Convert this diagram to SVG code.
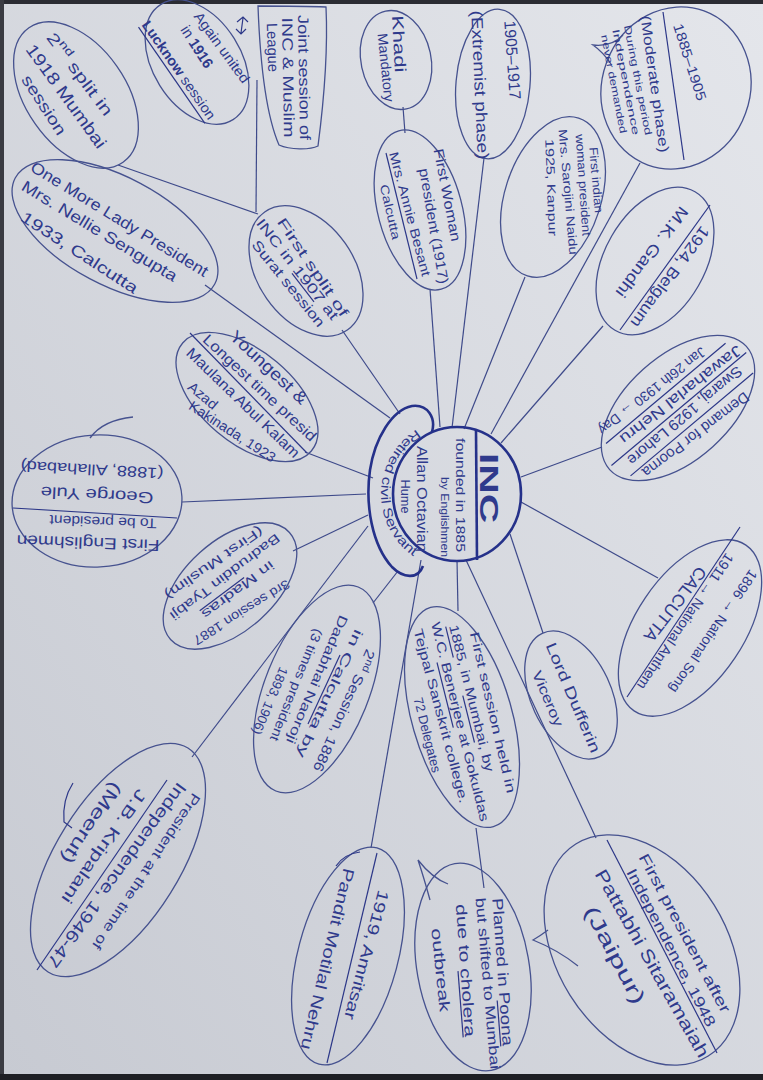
<svg xmlns="http://www.w3.org/2000/svg" width="763" height="1080" viewBox="0 0 763 1080">
<defs>
<linearGradient id="paper" x1="1" y1="0" x2="0" y2="1">
<stop offset="0" stop-color="#e4e6eb"/>
<stop offset="1" stop-color="#c7cad2"/>
</linearGradient>
<path id="arcR" d="M416.7,429.5 A76,76 0 0 0 421.3,561.1"/>
<style>
.t{font-family:"Liberation Sans","DejaVu Sans",sans-serif;fill:#2f3a8c;text-anchor:middle;dominant-baseline:central}
.b{fill:none;stroke:#46528f;stroke-width:1.3}
.c{fill:none;stroke:#3e4a8a;stroke-width:1.2}
.u{fill:none;stroke:#2c3788;stroke-width:1.2}
.k{fill:none;stroke:#25318a;stroke-width:2.6}
</style>
</defs>
<rect width="763" height="1080" fill="url(#paper)"/>
<rect x="0" y="0" width="763" height="4" fill="#2b2c33"/>
<rect x="0" y="0" width="4" height="1080" fill="#3a3b42"/>
<rect x="0" y="1074" width="763" height="6" fill="#1e1f24"/>

<g id="connectors">
<line class="c" x1="118" y1="165" x2="258" y2="214"/>
<line class="c" x1="257" y1="80" x2="256" y2="212"/>
<line class="c" x1="342" y1="330" x2="400" y2="414"/>
<line class="c" x1="205" y1="285" x2="390" y2="418"/>
<line class="c" x1="403" y1="107" x2="405" y2="133"/>
<line class="c" x1="430" y1="289" x2="440" y2="427"/>
<line class="c" x1="484" y1="158" x2="452" y2="428"/>
<line class="c" x1="525" y1="277" x2="464" y2="429"/>
<line class="c" x1="640" y1="163" x2="491" y2="434"/>
<line class="c" x1="603" y1="326" x2="501" y2="443"/>
<line class="c" x1="602" y1="447" x2="521" y2="477"/>
<line class="c" x1="658" y1="578" x2="521" y2="502"/>
<line class="c" x1="543" y1="633" x2="510" y2="534"/>
<line class="c" x1="457" y1="560" x2="458" y2="611"/>
<line class="c" x1="466" y1="560" x2="596" y2="838"/>
<line class="c" x1="476" y1="828" x2="484" y2="888"/>
<line class="c" x1="421" y1="560" x2="371" y2="848"/>
<line class="c" x1="398" y1="571" x2="373" y2="603"/>
<line class="c" x1="293" y1="551" x2="368" y2="515"/>
<line class="c" x1="182" y1="502" x2="366" y2="494"/>
<line class="c" x1="305" y1="452" x2="373" y2="478"/>
<line class="c" x1="368" y1="526" x2="192" y2="757"/>
</g>

<g id="n-inc">
<path class="k" d="M432,432 C436,418 428,404 412,406 C392,410 375,438 370,470 C365,505 372,545 392,567 C403,578 418,580 423,566"/>
<ellipse class="k" cx="457" cy="494" rx="64" ry="67" fill="#dcdee5"/>
<line class="k" x1="476" y1="430" x2="477" y2="560" stroke-width="1.8"/>
<text class="t" font-size="26" font-weight="bold" transform="translate(489,488) rotate(90)" textLength="70" lengthAdjust="spacingAndGlyphs">INC</text>
<text class="t" font-size="12" transform="translate(460,495) rotate(90)" textLength="114" lengthAdjust="spacingAndGlyphs">founded in 1885</text>
<text class="t" font-size="11" transform="translate(445,517) rotate(90)" textLength="80" lengthAdjust="spacingAndGlyphs">by Englishmen</text>
<text class="t" font-size="14" transform="translate(421.5,499) rotate(90)" textLength="106" lengthAdjust="spacingAndGlyphs">Allan Octavian</text>
<text class="t" font-size="13" transform="translate(405,496.5) rotate(90)" textLength="34" lengthAdjust="spacingAndGlyphs">Hume</text>
<text font-family="Liberation Sans, sans-serif" font-size="13" fill="#2f3a8c"><textPath href="#arcR" textLength="150" lengthAdjust="spacingAndGlyphs">Retired civil Servant</textPath></text>
</g>

<g id="n-split2">
<ellipse class="b" transform="translate(76,95) rotate(55)" rx="82" ry="50"/>
<text class="t" font-size="16" transform="translate(80,74) rotate(53)" textLength="99" lengthAdjust="spacingAndGlyphs">2<tspan font-size="11" dy="-5">nd</tspan><tspan dy="5"> split in</tspan></text>
<text class="t" font-size="17" transform="translate(66,96.5) rotate(54)" textLength="124" lengthAdjust="spacingAndGlyphs">1918 Mumbai</text>
<text class="t" font-size="16" transform="translate(44,105) rotate(57)" textLength="68" lengthAdjust="spacingAndGlyphs">session</text>
</g>

<g id="n-united">
<ellipse class="b" transform="translate(197,62) rotate(58)" rx="68" ry="44"/>
<text class="t" font-size="14" transform="translate(222,47.5) rotate(54)" textLength="84" lengthAdjust="spacingAndGlyphs">Again united</text>
<text class="t" font-size="15" transform="translate(197.5,46.5) rotate(57)" textLength="47" lengthAdjust="spacingAndGlyphs">in <tspan font-weight="bold">1916</tspan></text>
<text class="t" font-size="14" transform="translate(179,70) rotate(55)" textLength="117" lengthAdjust="spacingAndGlyphs"><tspan font-weight="bold">Lucknow</tspan> session</text>
<line class="u" x1="138.5" y1="27.1" x2="204.9" y2="123.3"/>
<path class="u" d="M243,18 L241,33 M237,22 L243,17 L248,22 M236,29 L241,34 L246,29"/>
</g>

<g id="n-joint">
<path class="b" d="M258,6 C260,60 266,115 279,145 C290,150 310,150 318,146 C324,100 328,50 326,7 C303,6 280,6 258,6 Z"/>
<text class="t" font-size="15" transform="translate(304.5,77.5) rotate(89)" textLength="125" lengthAdjust="spacingAndGlyphs">Joint session of</text>
<text class="t" font-size="15" transform="translate(288.5,77.5) rotate(89)" textLength="120" lengthAdjust="spacingAndGlyphs">INC &amp; Muslim</text>
<text class="t" font-size="15" transform="translate(273,47.5) rotate(88)" textLength="49" lengthAdjust="spacingAndGlyphs">League</text>
</g>

<g id="n-split1">
<ellipse class="b" transform="translate(306,271) rotate(55)" rx="72" ry="48"/>
<text class="t" font-size="14" transform="translate(313,267) rotate(56)" textLength="116" lengthAdjust="spacingAndGlyphs">First split of</text>
<text class="t" font-size="14" transform="translate(297.5,269) rotate(52)" textLength="124" lengthAdjust="spacingAndGlyphs">INC in 1907 at</text>
<text class="t" font-size="14" transform="translate(288.5,283.5) rotate(51)" textLength="107" lengthAdjust="spacingAndGlyphs">Surat session</text>
<line class="u" x1="292" y1="273.3" x2="314" y2="301.8"/>
</g>

<g id="n-nellie">
<ellipse class="b" transform="translate(115,231) rotate(28)" rx="113" ry="54"/>
<text class="t" font-size="16" transform="translate(119.5,219) rotate(31.5)" textLength="205" lengthAdjust="spacingAndGlyphs">One More Lady President</text>
<text class="t" font-size="16" transform="translate(99.5,231) rotate(31.3)" textLength="179" lengthAdjust="spacingAndGlyphs">Mrs. Nellie Sengupta</text>
<text class="t" font-size="16" transform="translate(79.5,252.5) rotate(33)" textLength="136" lengthAdjust="spacingAndGlyphs">1933, Calcutta</text>
</g>

<g id="n-khadi">
<ellipse class="b" transform="translate(396,60) rotate(78)" rx="50" ry="35"/>
<text class="t" font-size="16" transform="translate(399,44) rotate(87)" textLength="57" lengthAdjust="spacingAndGlyphs">Khadi</text>
<text class="t" font-size="14" transform="translate(386,67.5) rotate(84)" textLength="69" lengthAdjust="spacingAndGlyphs">Mandatory</text>
</g>

<g id="n-woman">
<ellipse class="b" transform="translate(420,210) rotate(75)" rx="82" ry="42"/>
<text class="t" font-size="14" transform="translate(447.5,195) rotate(79)" textLength="94" lengthAdjust="spacingAndGlyphs">First Woman</text>
<text class="t" font-size="14" transform="translate(434,226) rotate(80)" textLength="117" lengthAdjust="spacingAndGlyphs">president (1917)</text>
<text class="t" font-size="13" transform="translate(410,214) rotate(75)" textLength="128" lengthAdjust="spacingAndGlyphs">Mrs. Annie Besant</text>
<text class="t" font-size="12" transform="translate(390,212) rotate(77)" textLength="56" lengthAdjust="spacingAndGlyphs">Calcutta</text>
<line class="u" x1="386" y1="153" x2="417" y2="279"/>
</g>

<g id="n-extremist">
<ellipse class="b" transform="translate(493,84) rotate(95)" rx="75" ry="37"/>
<text class="t" font-size="16" transform="translate(512.5,60) rotate(86)" textLength="79" lengthAdjust="spacingAndGlyphs">1905–1917</text>
<text class="t" font-size="16" transform="translate(480,85) rotate(87.5)" textLength="149" lengthAdjust="spacingAndGlyphs">(Extremist phase)</text>
</g>

<g id="n-moderate">
<ellipse class="b" transform="translate(676,88) rotate(110)" rx="82" ry="74"/>
<path class="b" d="M623,35 Q612,47 593,45 Q603,52 611,64"/>
<line class="u" x1="663" y1="12" x2="684" y2="160"/>
<text class="t" font-size="14" transform="translate(690,62) rotate(72)" textLength="80" lengthAdjust="spacingAndGlyphs">1885–1905</text>
<text class="t" font-size="14" transform="translate(655,84) rotate(82)" textLength="138" lengthAdjust="spacingAndGlyphs">(Moderate phase)</text>
<text class="t" font-size="10" transform="translate(638,80) rotate(79)" textLength="112" lengthAdjust="spacingAndGlyphs">During this period</text>
<text class="t" font-size="10" transform="translate(626,82) rotate(79)" textLength="108" lengthAdjust="spacingAndGlyphs">Independence</text>
<text class="t" font-size="10" transform="translate(614,84) rotate(79)" textLength="100" lengthAdjust="spacingAndGlyphs">never demanded</text>
</g>

<g id="n-sarojini">
<ellipse class="b" transform="translate(553,197) rotate(108)" rx="83" ry="48"/>
<text class="t" font-size="12" transform="translate(596,180) rotate(85)" textLength="66" lengthAdjust="spacingAndGlyphs">First indian</text>
<text class="t" font-size="12" transform="translate(583,185) rotate(86)" textLength="102" lengthAdjust="spacingAndGlyphs">woman president</text>
<text class="t" font-size="12" transform="translate(568,192) rotate(85)" textLength="126" lengthAdjust="spacingAndGlyphs">Mrs. Sarojini Naidu</text>
<text class="t" font-size="12" transform="translate(551,187.5) rotate(88)" textLength="97" lengthAdjust="spacingAndGlyphs">1925, Kanpur</text>
</g>

<g id="n-gandhi">
<ellipse class="b" transform="translate(655,261) rotate(120)" rx="80" ry="50"/>
<line class="u" x1="710" y1="205" x2="620" y2="330"/>
<text class="t" font-size="16" transform="translate(670,277) rotate(126.3)" textLength="121" lengthAdjust="spacingAndGlyphs">1924, Belgaum</text>
<text class="t" font-size="16" transform="translate(652,252) rotate(127)" textLength="109" lengthAdjust="spacingAndGlyphs">M.K. Gandhi</text>
</g>

<g id="n-poorna">
<ellipse class="b" transform="translate(678,408) rotate(138)" rx="92" ry="52"/>
<g transform="translate(678,408) rotate(140)">
<line class="u" x1="-80" y1="-21.5" x2="80" y2="-21.5"/>
<line class="u" x1="-88" y1="-1.3" x2="88" y2="-1.3"/>
<line class="u" x1="-78" y1="19" x2="78" y2="19"/>
</g>
<text class="t" font-size="15" transform="translate(696,435) rotate(142.7)" textLength="130" lengthAdjust="spacingAndGlyphs">Demand for Poorna</text>
<text class="t" font-size="15" transform="translate(685,416) rotate(140)" textLength="145" lengthAdjust="spacingAndGlyphs">Swaraj, 1929 Lahore</text>
<text class="t" font-size="15" transform="translate(681,395) rotate(142)" textLength="150" lengthAdjust="spacingAndGlyphs">Jawaharlal Nehru</text>
<text class="t" font-size="14" transform="translate(652,391) rotate(142)" textLength="132" lengthAdjust="spacingAndGlyphs">Jan 26th 1930 → Day</text>
</g>

<g id="n-song">
<ellipse class="b" transform="translate(690,628) rotate(124)" rx="100" ry="54"/>
<line class="u" x1="740" y1="527" x2="627" y2="697"/>
<text class="t" font-size="14" transform="translate(713.5,631.5) rotate(124)" textLength="145" lengthAdjust="spacingAndGlyphs">1896 → National Song</text>
<text class="t" font-size="14" transform="translate(685.5,621.5) rotate(124)" textLength="161" lengthAdjust="spacingAndGlyphs">1911 → National Anthem</text>
<text class="t" font-size="17" transform="translate(675,604) rotate(128)" textLength="90" lengthAdjust="spacingAndGlyphs">CALCUTTA</text>
</g>

<g id="n-dufferin">
<ellipse class="b" transform="translate(571,695) rotate(65)" rx="68" ry="40"/>
<text class="t" font-size="15" transform="translate(573.5,697.5) rotate(67)" textLength="118" lengthAdjust="spacingAndGlyphs">Lord Dufferin</text>
<text class="t" font-size="14" transform="translate(548,698.5) rotate(67)" textLength="59" lengthAdjust="spacingAndGlyphs">Viceroy</text>
</g>

<g id="n-first-session">
<ellipse class="b" transform="translate(462,717) rotate(74)" rx="114" ry="50"/>
<text class="t" font-size="13" transform="translate(492.8,712.4) rotate(77)" textLength="165" lengthAdjust="spacingAndGlyphs">First session held in</text>
<text class="t" font-size="13" transform="translate(471.7,698.1) rotate(76)" textLength="151" lengthAdjust="spacingAndGlyphs">1885, in Mumbai, by</text>
<text class="t" font-size="13" transform="translate(460.1,721.6) rotate(76)" textLength="205" lengthAdjust="spacingAndGlyphs">W.C. Benerjee at Gokuldas</text>
<text class="t" font-size="13" transform="translate(441.1,716) rotate(75)" textLength="180" lengthAdjust="spacingAndGlyphs">Tejpal Sanskrit college.</text>
<text class="t" font-size="13" transform="translate(427.3,734.9) rotate(76)" textLength="77" lengthAdjust="spacingAndGlyphs">72 Delegates</text>
<line class="u" x1="445.7" y1="626.7" x2="453.3" y2="657.5"/>
<line class="u" x1="462.8" y1="695.6" x2="474.5" y2="742.5"/>
<line class="u" x1="437" y1="662.5" x2="453.3" y2="727.7"/>
</g>

<g id="n-poona">
<ellipse class="b" transform="translate(473,967) rotate(80)" rx="105" ry="56"/>
<path class="b" d="M430,900 Q424,878 418,860 Q432,878 448,884"/>
<text class="t" font-size="15" transform="translate(503,972) rotate(86)" textLength="148" lengthAdjust="spacingAndGlyphs">Planned in Poona</text>
<text class="t" font-size="14" transform="translate(488,983.5) rotate(85)" textLength="172" lengthAdjust="spacingAndGlyphs">but shifted to Mumbai</text>
<text class="t" font-size="15" transform="translate(466,970.5) rotate(86)" textLength="133" lengthAdjust="spacingAndGlyphs">due to cholera</text>
<text class="t" font-size="15" transform="translate(441,970) rotate(84)" textLength="84" lengthAdjust="spacingAndGlyphs">outbreak</text>
<line class="u" x1="497.2" y1="1000.5" x2="500.8" y2="1046.4"/>
<line class="u" x1="458" y1="971.1" x2="463.2" y2="1037.4"/>
</g>

<g id="n-pattabhi">
<ellipse class="b" transform="translate(642,950) rotate(58)" rx="125" ry="85"/>
<path class="b" d="M548,930 Q540,936 533,940 Q558,950 578,966"/>
<line class="u" x1="607" y1="840" x2="717" y2="1053"/>
<text class="t" font-size="15" transform="translate(685,933) rotate(62)" textLength="178" lengthAdjust="spacingAndGlyphs">First president after</text>
<text class="t" font-size="15" transform="translate(671.5,947.5) rotate(62.5)" textLength="176" lengthAdjust="spacingAndGlyphs">Independence, 1948</text>
<text class="t" font-size="18" transform="translate(652,963.5) rotate(60.5)" textLength="213" lengthAdjust="spacingAndGlyphs">Pattabhi Sitaramaiah</text>
<text class="t" font-size="20" transform="translate(615,955) rotate(62)" textLength="108" lengthAdjust="spacingAndGlyphs">(Jaipur)</text>
</g>

<g id="n-amritsar">
<ellipse class="b" transform="translate(348,956) rotate(105)" rx="112" ry="50"/>
<line class="u" x1="377" y1="853" x2="327" y2="1063"/>
<path class="u" d="M336,866 Q344,854 360,852"/>
<text class="t" font-size="16" transform="translate(366.5,955) rotate(105)" textLength="133" lengthAdjust="spacingAndGlyphs">1919, Amritsar</text>
<text class="t" font-size="16" transform="translate(327.5,959) rotate(103.5)" textLength="186" lengthAdjust="spacingAndGlyphs">Pandit Motilal Nehru</text>
</g>

<g id="n-second-session">
<ellipse class="b" transform="translate(317,689) rotate(112)" rx="110" ry="52"/>
<text class="t" font-size="14" transform="translate(344.2,710.7) rotate(114)" textLength="132" lengthAdjust="spacingAndGlyphs">2<tspan font-size="10" dy="-4">nd</tspan><tspan dy="4"> Session, 1886</tspan></text>
<text class="t" font-size="13" transform="translate(329.7,693.7) rotate(115)" textLength="140" lengthAdjust="spacingAndGlyphs">in Calcutta  by</text>
<text class="t" font-size="13" transform="translate(317.1,679.6) rotate(113)" textLength="138" lengthAdjust="spacingAndGlyphs">Dadabhai Naoroji</text>
<text class="t" font-size="13" transform="translate(296.4,685) rotate(112)" textLength="120" lengthAdjust="spacingAndGlyphs">(3 times president</text>
<text class="t" font-size="13" transform="translate(270.1,700.9) rotate(113)" textLength="72" lengthAdjust="spacingAndGlyphs">1893, 1906)</text>
<line class="u" x1="340" y1="655" x2="308" y2="724"/>
</g>

<g id="n-third-session">
<ellipse class="b" transform="translate(230,586) rotate(-42)" rx="80" ry="45"/>
<text class="t" font-size="13" transform="translate(241.5,612.5) rotate(148)" textLength="111" lengthAdjust="spacingAndGlyphs">3rd session 1887</text>
<text class="t" font-size="13" transform="translate(238,590) rotate(143)" textLength="87" lengthAdjust="spacingAndGlyphs">in Madras</text>
<text class="t" font-size="13" transform="translate(225,577) rotate(143)" textLength="134" lengthAdjust="spacingAndGlyphs">Badruddin Tyabji</text>
<text class="t" font-size="13" transform="translate(214,563) rotate(145)" textLength="117" lengthAdjust="spacingAndGlyphs">(First Muslim)</text>
<line class="u" x1="244.1" y1="577.4" x2="199.7" y2="610.8"/>
</g>

<g id="n-yule">
<ellipse class="b" transform="translate(97,501) rotate(-3)" rx="85" ry="66"/>
<path class="b" d="M90,438 Q103,420 133,417"/>
<line class="u" x1="13" y1="508" x2="177" y2="518"/>
<text class="t" font-size="15" transform="translate(92,470) rotate(183)" textLength="143" lengthAdjust="spacingAndGlyphs">(1888, Allahabad)</text>
<text class="t" font-size="16" transform="translate(97,495) rotate(183)" textLength="113" lengthAdjust="spacingAndGlyphs">George Yule</text>
<text class="t" font-size="14" transform="translate(103,522) rotate(182)" textLength="107" lengthAdjust="spacingAndGlyphs">To be president</text>
<text class="t" font-size="16" transform="translate(88,543) rotate(182)" textLength="143" lengthAdjust="spacingAndGlyphs">First Englishmen</text>
</g>

<g id="n-maulana">
<ellipse class="b" transform="translate(247,397) rotate(40)" rx="84" ry="46"/>
<line class="u" x1="190" y1="333" x2="307" y2="453"/>
<text class="t" font-size="17" transform="translate(268.5,367.5) rotate(43)" textLength="99" lengthAdjust="spacingAndGlyphs">Youngest &amp;</text>
<text class="t" font-size="15" transform="translate(260,387.5) rotate(43)" textLength="149" lengthAdjust="spacingAndGlyphs">Longest time presid</text>
<text class="t" font-size="15" transform="translate(243.5,402.5) rotate(44)" textLength="151" lengthAdjust="spacingAndGlyphs">Maulana Abul Kalam</text>
<text class="t" font-size="14" transform="translate(203,395.5) rotate(40)" textLength="34" lengthAdjust="spacingAndGlyphs">Azad</text>
<text class="t" font-size="14" transform="translate(232.5,431.5) rotate(33)" textLength="100" lengthAdjust="spacingAndGlyphs">Kakinada, 1923</text>
</g>

<g id="n-kripalani">
<ellipse class="b" transform="translate(118,860) rotate(122)" rx="132" ry="62"/>
<line class="u" x1="167" y1="780" x2="37" y2="970"/>
<path class="u" d="M73,783 Q62,800 64,822 L72,828"/>
<text class="t" font-size="14" transform="translate(146.5,871.5) rotate(123.5)" textLength="184" lengthAdjust="spacingAndGlyphs">President at the time of</text>
<text class="t" font-size="17" transform="translate(116.5,875) rotate(126)" textLength="224" lengthAdjust="spacingAndGlyphs">Independence, 1946-47</text>
<text class="t" font-size="16" transform="translate(104,846.5) rotate(125)" textLength="135" lengthAdjust="spacingAndGlyphs">J.B. Kripalani</text>
<text class="t" font-size="18" transform="translate(91.5,823) rotate(124)" textLength="94" lengthAdjust="spacingAndGlyphs">(Meerut)</text>
</g>
</svg>
